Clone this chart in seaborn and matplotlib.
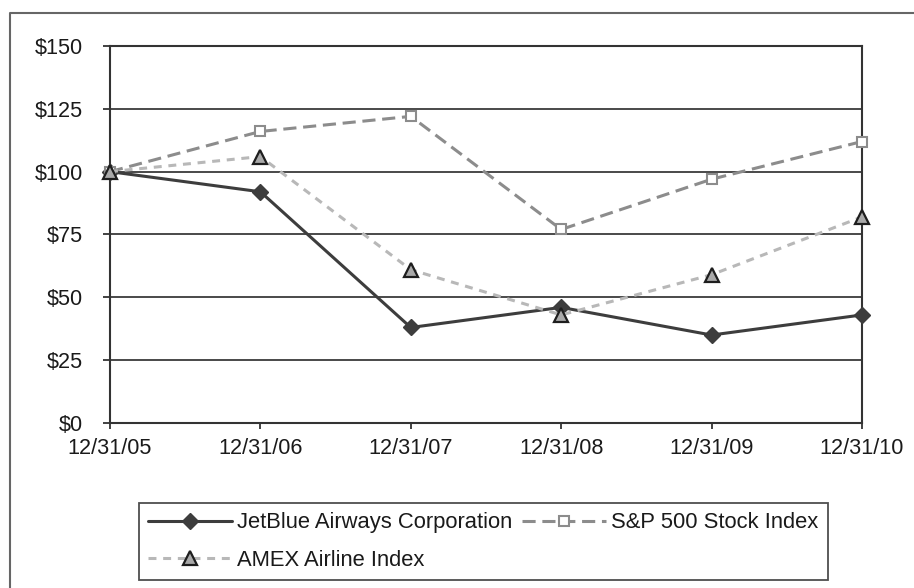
import matplotlib
matplotlib.use("Agg")
import matplotlib.pyplot as plt
from matplotlib.lines import Line2D
import seaborn as sns
import pandas as pd

# ---- data ----
dates = ["12/31/05", "12/31/06", "12/31/07", "12/31/08", "12/31/09", "12/31/10"]
jetblue = [100, 92, 38, 46, 35, 43]
sp500 = [100, 116, 122, 77, 97, 112]
amex = [100, 106, 61, 43, 59, 82]
series_names = ["JetBlue Airways Corporation", "S&P 500 Stock Index", "AMEX Airline Index"]
y_ticks = [0, 25, 50, 75, 100, 125, 150]
y_labels = ["$0", "$25", "$50", "$75", "$100", "$125", "$150"]

sns.set_theme(style="white")
plt.rcParams['font.family'] = ['Liberation Sans', 'DejaVu Sans']
plt.rcParams['text.color'] = '#1a1a1a'

fig = plt.figure(figsize=(9.14, 5.88), dpi=100)
ax = fig.add_axes([110 / 914, 1 - 423 / 588, (862 - 110) / 914, (423 - 46) / 588])

styles = [
    dict(color='#3d3d3d', linestyle='-', marker='D', markersize=7.8,
         markerfacecolor='#3d3d3d', markeredgecolor='#3d3d3d', markeredgewidth=1.0, linewidth=2.2),
    dict(color='#8c8c8c', linestyle=(0, (4.3, 2.2)), marker='s', markersize=7.8,
         markerfacecolor='white', markeredgecolor='#8c8c8c', markeredgewidth=1.5, linewidth=2.2),
    dict(color='#b8b8b8', linestyle=(0, (2.6, 2.2)), marker='^', markersize=9.5,
         markerfacecolor='#a9a9a9', markeredgecolor='#1e1e1e', markeredgewidth=1.6, linewidth=2.2),
]

for name, vals, st in zip(series_names, [jetblue, sp500, amex], styles):
    df = pd.DataFrame({"date": dates, "value": vals})
    sns.lineplot(data=df, x="date", y="value", ax=ax, sort=False, label=name,
                 clip_on=False, zorder=3, **st)

if ax.get_legend() is not None:
    ax.get_legend().remove()

ax.set_xlim(0, len(dates) - 1)
ax.set_ylim(y_ticks[0], y_ticks[-1])
ax.set_yticks(y_ticks)
ax.set_yticklabels(y_labels)
ax.set_xlabel("")
ax.set_ylabel("")

ax.yaxis.grid(True, color='#3a3a3a', linewidth=1.3)
ax.xaxis.grid(False)
ax.set_axisbelow(True)
for sp in ax.spines.values():
    sp.set_color('#333333')
    sp.set_linewidth(1.5)
    sp.set_zorder(2)

ax.tick_params(axis='y', left=True, direction='out', length=5, width=1.3,
               color='#333333', pad=14.5, labelsize=15.6, labelcolor='#1a1a1a')
ax.tick_params(axis='x', bottom=True, direction='out', length=4.5, width=1.3,
               color='#333333', pad=6, labelsize=15.6, labelcolor='#1a1a1a')

# legend (order so row 1 = JetBlue, S&P ; row 2 = AMEX)
handles, labels = ax.get_legend_handles_labels()
order = [0, 2, 1]
leg = fig.legend([handles[i] for i in order], [labels[i] for i in order],
                 loc='center', bbox_to_anchor=(483.5 / 914, 1 - 541.5 / 588),
                 ncol=2, fontsize=15.8, frameon=True, fancybox=False,
                 handlelength=3.8, handletextpad=0.25, columnspacing=0.45,
                 labelspacing=0.75, borderpad=0.42, numpoints=1)
leg.get_frame().set_edgecolor('#222222')
leg.get_frame().set_linewidth(1.3)
leg.get_frame().set_facecolor('white')

# outer frame (left and top edges)
fx = 10 / 914
fy = 1 - 13 / 588
fig.add_artist(Line2D([fx, fx, 1.01], [-0.01, fy, fy], transform=fig.transFigure,
                      color='#666666', linewidth=1.5, clip_on=False))

fig.savefig("out.png", dpi=100)
